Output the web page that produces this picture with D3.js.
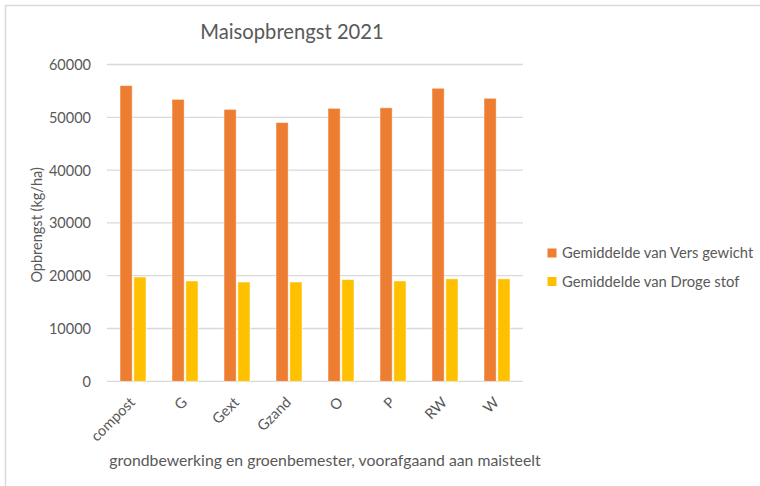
<!DOCTYPE html>
<html>
<head>
<meta charset="utf-8">
<script src="https://cdn.jsdelivr.net/npm/d3@7"></script>
<style>
  html, body { margin: 0; padding: 0; background: #fff; }
  svg { display: block; }
  text { font-family: Lato, "Open Sans", "Liberation Sans", sans-serif; fill: #595959; }
</style>
</head>
<body>
<svg id="chart" width="760" height="486"></svg>
<script>
// Average yield per preceding treatment (kg/ha)
const categories = ["compost", "G", "Gext", "Gzand", "O", "P", "RW", "W"];
const versGewicht = [56000, 53400, 51500, 49000, 51700, 51800, 55500, 53600];
const drogeStof = [19750, 19000, 18800, 18800, 19250, 19000, 19400, 19400];
const seriesNames = ["Gemiddelde van Vers gewicht", "Gemiddelde van Droge stof"];
const seriesColors = ["#ED7D31", "#FFC000"];
const yTicks = [0, 10000, 20000, 30000, 40000, 50000, 60000];

const svg = d3.select("#chart");
const W = 760, H = 486;

// chart area frame
svg.append("rect")
  .attr("x", 5.5).attr("y", 5.5)
  .attr("width", W + 10).attr("height", H + 10)
  .attr("fill", "none").attr("stroke", "#d9d9d9").attr("stroke-width", 1.5);

const plot = { left: 107, right: 523, top: 64.5, bottom: 381.3 };

const x = d3.scaleBand().domain(categories).range([plot.left, plot.right]).paddingInner(0).paddingOuter(0);
const inner = d3.scaleBand().domain([0, 1]).range([13, x.bandwidth() - 13]).paddingInner(0.12);
const y = d3.scaleLinear().domain([0, 60000]).range([plot.bottom, plot.top]);

// gridlines
svg.append("g")
  .selectAll("line").data(yTicks).join("line")
  .attr("x1", plot.left).attr("x2", plot.right)
  .attr("y1", d => y(d)).attr("y2", d => y(d))
  .attr("stroke", "#d9d9d9").attr("stroke-width", 1.3);

// y axis labels
const yAxis = d3.axisLeft(y).tickValues(yTicks).tickSize(0).tickPadding(0).tickFormat(d3.format("d"));
const yg = svg.append("g").attr("transform", `translate(${plot.left - 16},0)`).call(yAxis);
yg.select(".domain").remove();
yg.selectAll("text").attr("font-size", 14.5).style("fill", "#595959").attr("dy", "0.35em");

// bars
const series = [versGewicht, drogeStof];
series.forEach((vals, si) => {
  svg.append("g").selectAll("rect").data(vals).join("rect")
    .attr("x", (d, i) => x(categories[i]) + inner(si))
    .attr("width", inner.bandwidth())
    .attr("y", d => y(d))
    .attr("height", d => y(0) - y(d))
    .attr("fill", seriesColors[si])
    .attr("stroke", "#ffffff").attr("stroke-opacity", 0.6).attr("stroke-width", 0.8);
});

// x axis labels, rotated
const xg = svg.append("g").attr("transform", `translate(0,${plot.bottom})`)
  .call(d3.axisBottom(x).tickSize(0).tickPadding(0));
xg.select(".domain").remove();
xg.selectAll("text")
  .attr("font-size", 14.6).style("fill", "#595959")
  .attr("text-anchor", "end")
  .attr("dy", 0)
  .attr("transform", "translate(3,22) rotate(-45)");

// titles
svg.append("text").attr("x", 292).attr("y", 39.3)
  .attr("text-anchor", "middle").attr("font-size", 20.2).text("Maisopbrengst 2021");

svg.append("text")
  .attr("transform", `translate(42,${(plot.top + plot.bottom) / 2 + 2}) rotate(-90)`)
  .attr("text-anchor", "middle").attr("font-size", 14.5).text("Opbrengst (kg/ha)");

svg.append("text").attr("x", 325).attr("y", 466)
  .attr("text-anchor", "middle").attr("font-size", 15.8)
  .text("grondbewerking en groenbemester, voorafgaand aan maisteelt");

// legend
const lg = svg.append("g").selectAll("g").data(seriesNames).join("g")
  .attr("transform", (d, i) => `translate(547.5,${253 + i * 28.5})`);
lg.append("rect").attr("x", 0).attr("y", -4.5).attr("width", 9).attr("height", 9)
  .attr("fill", (d, i) => seriesColors[i]);
lg.append("text").attr("x", 14.5).attr("y", 0).attr("dy", "0.35em")
  .attr("font-size", 14.8).text(d => d);
</script>
</body>
</html>
